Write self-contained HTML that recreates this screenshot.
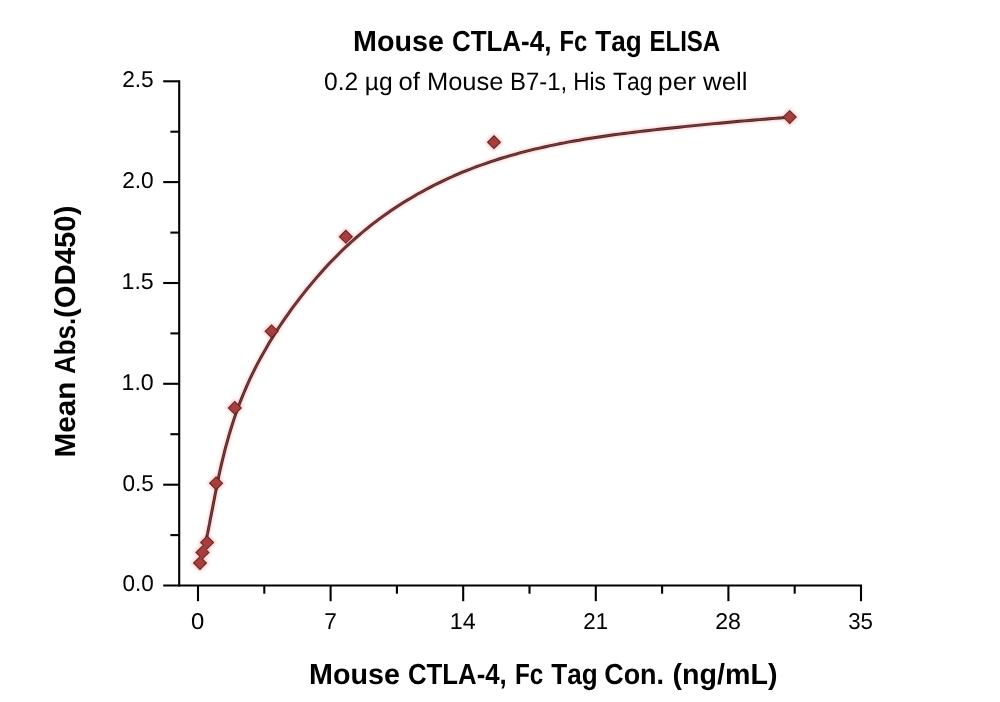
<!DOCTYPE html>
<html><head><meta charset="utf-8"><title>Mouse CTLA-4, Fc Tag ELISA</title>
<style>
html,body{margin:0;padding:0;background:#fff;}
body{width:1000px;height:702px;overflow:hidden;font-family:"Liberation Sans",sans-serif;}
svg{display:block;}
text{font-family:"Liberation Sans",sans-serif;fill:#000;font-kerning:none;text-rendering:geometricPrecision;}
.b{font-weight:bold;}
</style></head><body>
<svg width="1000" height="702" viewBox="0 0 1000 702">
<defs>
<filter id="glow" x="-20%" y="-20%" width="140%" height="140%">
<feGaussianBlur stdDeviation="1.7"/>
</filter>
<radialGradient id="dg" cx="0.5" cy="0.5" r="0.5">
<stop offset="0" stop-color="#b63838"/>
<stop offset="0.55" stop-color="#a63d3d"/>
<stop offset="1" stop-color="#964444"/>
</radialGradient>
</defs>
<rect width="1000" height="702" fill="#fff"/>
<g stroke="#000" stroke-width="2.1" fill="none" stroke-linecap="butt">
<line x1="179.2" y1="80.3" x2="179.2" y2="586.5"/>
<line x1="163.2" y1="585.5" x2="862" y2="585.5"/>
<line x1="170.4" y1="535.1" x2="179.2" y2="535.1"/>
<line x1="163.2" y1="484.7" x2="179.2" y2="484.7"/>
<line x1="170.4" y1="434.2" x2="179.2" y2="434.2"/>
<line x1="163.2" y1="383.8" x2="179.2" y2="383.8"/>
<line x1="170.4" y1="333.4" x2="179.2" y2="333.4"/>
<line x1="163.2" y1="283.0" x2="179.2" y2="283.0"/>
<line x1="170.4" y1="232.6" x2="179.2" y2="232.6"/>
<line x1="163.2" y1="182.1" x2="179.2" y2="182.1"/>
<line x1="170.4" y1="131.7" x2="179.2" y2="131.7"/>
<line x1="163.2" y1="81.3" x2="179.2" y2="81.3"/>
<line x1="198.0" y1="585.5" x2="198.0" y2="601.2"/>
<line x1="264.3" y1="585.5" x2="264.3" y2="593.7"/>
<line x1="330.6" y1="585.5" x2="330.6" y2="601.2"/>
<line x1="396.9" y1="585.5" x2="396.9" y2="593.7"/>
<line x1="463.2" y1="585.5" x2="463.2" y2="601.2"/>
<line x1="529.5" y1="585.5" x2="529.5" y2="593.7"/>
<line x1="595.8" y1="585.5" x2="595.8" y2="601.2"/>
<line x1="662.1" y1="585.5" x2="662.1" y2="593.7"/>
<line x1="728.4" y1="585.5" x2="728.4" y2="601.2"/>
<line x1="794.7" y1="585.5" x2="794.7" y2="593.7"/>
<line x1="861.0" y1="585.5" x2="861.0" y2="601.2"/>
</g>
<g opacity="0.999">
<text class="b" font-size="29.0" transform="translate(353.08,51.2) scale(0.9897,1)">Mouse</text>
<text class="b" font-size="29.0" transform="translate(451.94,51.2) scale(0.8942,1)">CTLA-4,</text>
<text class="b" font-size="29.0" transform="translate(559.41,51.2) scale(0.8180,1)">Fc</text>
<text class="b" font-size="29.0" transform="translate(595.31,51.2) scale(0.9008,1)">Tag</text>
<text class="b" font-size="29.0" transform="translate(649.39,51.2) scale(0.8296,1)">ELISA</text>
<text class="b" font-size="29.0" transform="translate(309.08,684.3) scale(0.9897,1)">Mouse</text>
<text class="b" font-size="29.0" transform="translate(407.94,684.3) scale(0.8887,1)">CTLA-4,</text>
<text class="b" font-size="29.0" transform="translate(514.98,684.3) scale(0.8373,1)">Fc</text>
<text class="b" font-size="29.0" transform="translate(551.31,684.3) scale(0.9008,1)">Tag</text>
<text class="b" font-size="29.0" transform="translate(604.19,684.3) scale(0.9291,1)">Con.</text>
<text class="b" font-size="29.0" transform="translate(672.58,684.3) scale(0.9863,1)">(ng/mL)</text>
<text font-size="25.1" transform="translate(324.04,89.7) scale(0.9801,1)">0.2</text>
<text font-size="25.1" transform="translate(364.72,89.7) scale(0.9806,1)">µg</text>
<text font-size="25.1" transform="translate(398.52,89.7) scale(1.0243,1)">of</text>
<text font-size="25.1" transform="translate(426.91,89.7) scale(1.0171,1)">Mouse</text>
<text font-size="25.1" transform="translate(510.04,89.7) scale(0.9519,1)">B7-1,</text>
<text font-size="25.1" transform="translate(573.14,89.7) scale(0.9013,1)">His</text>
<text font-size="25.1" transform="translate(613.09,89.7) scale(0.9107,1)">Tag</text>
<text font-size="25.1" transform="translate(658.11,89.7) scale(1.0426,1)">per</text>
<text font-size="25.1" transform="translate(703.04,89.7) scale(1.0289,1)">well</text>
<text class="b" font-size="29.0" transform="translate(75.1,457.59) rotate(-90) scale(1.0257,1)">Mean</text>
<text class="b" font-size="29.0" transform="translate(75.1,374.05) rotate(-90) scale(0.8965,1)">Abs.</text>
<text class="b" font-size="29.0" transform="translate(75.1,318.06) rotate(-90) scale(1.0119,1)">(OD450)</text>
<text font-size="22.9" transform="translate(122.42,591) scale(0.9819,1)">0.0</text>
<text font-size="22.9" transform="translate(122.42,490.6) scale(0.9841,1)">0.5</text>
<text font-size="22.9" transform="translate(121.54,390) scale(1.0104,1)">1.0</text>
<text font-size="22.9" transform="translate(121.53,289) scale(1.0128,1)">1.5</text>
<text font-size="22.9" transform="translate(122.16,188) scale(0.9903,1)">2.0</text>
<text font-size="22.9" transform="translate(122.16,87) scale(0.9926,1)">2.5</text>
<text font-size="22.9" transform="translate(191.07,629) scale(1.0414,1)">0</text>
<text font-size="22.9" transform="translate(324.14,629) scale(0.9894,1)">7</text>
<text font-size="22.9" transform="translate(449.83,629) scale(1.0149,1)">14</text>
<text font-size="22.9" transform="translate(583.28,629) scale(0.9741,1)">21</text>
<text font-size="22.9" transform="translate(715.23,629) scale(1.0118,1)">28</text>
<text font-size="22.9" transform="translate(848.15,629) scale(0.9730,1)">35</text>
</g>
<g filter="url(#glow)" opacity="0.27">
<path d="M200.5,563.1 L201.8,558.3 L203.0,553.4 L204.2,548.5 L205.3,543.5 L206.4,538.6 L207.5,533.7 L208.5,528.7 L209.5,523.8 L210.4,518.8 L211.4,513.9 L212.4,508.9 L213.3,504.0 L214.3,499.0 L215.2,494.0 L216.2,489.1 L217.2,484.1 L218.2,479.2 L219.2,474.3 L220.3,469.3 L221.4,464.4 L222.6,459.5 L223.8,454.6 L225.0,449.7 L226.3,444.8 L227.7,440.0 L229.0,435.1 L230.5,430.3 L232.0,425.4 L233.5,420.6 L235.1,415.9 L236.8,411.1 L238.5,406.4 L240.3,401.6 L242.2,396.9 L244.1,392.3 L246.1,387.6 L248.1,383.0 L250.2,378.4 L252.4,373.9 L254.6,369.4 L256.9,364.9 L259.3,360.4 L261.7,356.0 L264.2,351.6 L266.7,347.2 L269.2,342.8 L271.9,338.5 L274.5,334.2 L277.2,330.0 L280.0,325.8 L282.8,321.6 L285.7,317.4 L288.6,313.3 L291.5,309.2 L294.5,305.1 L297.6,301.1 L300.6,297.1 L303.8,293.1 L306.9,289.2 L310.1,285.3 L313.4,281.4 L316.6,277.6 L320.0,273.8 L323.3,270.0 L326.7,266.3 L330.2,262.6 L333.7,259.0 L337.2,255.4 L340.8,251.8 L344.4,248.3 L348.1,244.9 L351.8,241.5 L355.6,238.1 L359.4,234.8 L363.3,231.5 L367.2,228.3 L371.1,225.2 L375.1,222.1 L379.1,219.1 L383.2,216.1 L387.3,213.2 L391.5,210.3 L395.7,207.5 L399.9,204.8 L404.2,202.1 L408.5,199.4 L412.8,196.9 L417.2,194.3 L421.6,191.9 L426.0,189.5 L430.5,187.1 L435.0,184.8 L439.5,182.6 L444.1,180.4 L448.6,178.3 L453.2,176.2 L457.9,174.2 L462.5,172.2 L467.2,170.3 L471.9,168.5 L476.6,166.7 L481.3,165.0 L486.1,163.3 L490.9,161.6 L495.7,160.1 L500.5,158.5 L505.3,157.1 L510.2,155.6 L515.0,154.3 L519.9,152.9 L524.8,151.7 L529.7,150.4 L534.6,149.2 L539.5,148.1 L544.4,147.0 L549.3,145.9 L554.3,144.8 L559.2,143.8 L564.2,142.9 L569.1,141.9 L574.1,141.0 L579.1,140.2 L584.0,139.3 L589.0,138.5 L594.0,137.7 L599.0,137.0 L604.0,136.2 L609.0,135.5 L614.0,134.8 L619.0,134.1 L624.0,133.5 L629.0,132.9 L634.0,132.2 L639.0,131.6 L644.0,131.0 L649.0,130.5 L654.0,129.9 L659.1,129.3 L664.1,128.8 L669.1,128.2 L674.1,127.7 L679.1,127.2 L684.1,126.6 L689.2,126.1 L694.2,125.6 L699.2,125.1 L704.2,124.6 L709.3,124.1 L714.3,123.6 L719.3,123.2 L724.3,122.7 L729.4,122.2 L734.4,121.8 L739.4,121.3 L744.4,120.9 L749.5,120.5 L754.5,120.0 L759.5,119.6 L764.6,119.2 L769.6,118.8 L774.6,118.4 L779.6,118.0 L784.7,117.6 L789.7,117.2" fill="none" stroke="#ff3030" stroke-width="4.5"/>
<g fill="#ff3030" stroke="#ff3030" stroke-width="3" stroke-linejoin="round">
<path d="M200.00,555.95 L207.15,563.10 L200.00,570.25 L192.85,563.10 Z"/>
<path d="M202.45,545.25 L209.60,552.40 L202.45,559.55 L195.30,552.40 Z"/>
<path d="M207.10,535.25 L214.25,542.40 L207.10,549.55 L199.95,542.40 Z"/>
<path d="M216.10,476.15 L223.25,483.30 L216.10,490.45 L208.95,483.30 Z"/>
<path d="M234.80,400.75 L241.95,407.90 L234.80,415.05 L227.65,407.90 Z"/>
<path d="M271.60,324.15 L278.75,331.30 L271.60,338.45 L264.45,331.30 Z"/>
<path d="M345.85,229.55 L353.00,236.70 L345.85,243.85 L338.70,236.70 Z"/>
<path d="M494.00,135.05 L501.15,142.20 L494.00,149.35 L486.85,142.20 Z"/>
<path d="M789.70,109.95 L796.85,117.10 L789.70,124.25 L782.55,117.10 Z"/>
</g>
</g>
<path d="M200.5,563.1 L201.8,558.3 L203.0,553.4 L204.2,548.5 L205.3,543.5 L206.4,538.6 L207.5,533.7 L208.5,528.7 L209.5,523.8 L210.4,518.8 L211.4,513.9 L212.4,508.9 L213.3,504.0 L214.3,499.0 L215.2,494.0 L216.2,489.1 L217.2,484.1 L218.2,479.2 L219.2,474.3 L220.3,469.3 L221.4,464.4 L222.6,459.5 L223.8,454.6 L225.0,449.7 L226.3,444.8 L227.7,440.0 L229.0,435.1 L230.5,430.3 L232.0,425.4 L233.5,420.6 L235.1,415.9 L236.8,411.1 L238.5,406.4 L240.3,401.6 L242.2,396.9 L244.1,392.3 L246.1,387.6 L248.1,383.0 L250.2,378.4 L252.4,373.9 L254.6,369.4 L256.9,364.9 L259.3,360.4 L261.7,356.0 L264.2,351.6 L266.7,347.2 L269.2,342.8 L271.9,338.5 L274.5,334.2 L277.2,330.0 L280.0,325.8 L282.8,321.6 L285.7,317.4 L288.6,313.3 L291.5,309.2 L294.5,305.1 L297.6,301.1 L300.6,297.1 L303.8,293.1 L306.9,289.2 L310.1,285.3 L313.4,281.4 L316.6,277.6 L320.0,273.8 L323.3,270.0 L326.7,266.3 L330.2,262.6 L333.7,259.0 L337.2,255.4 L340.8,251.8 L344.4,248.3 L348.1,244.9 L351.8,241.5 L355.6,238.1 L359.4,234.8 L363.3,231.5 L367.2,228.3 L371.1,225.2 L375.1,222.1 L379.1,219.1 L383.2,216.1 L387.3,213.2 L391.5,210.3 L395.7,207.5 L399.9,204.8 L404.2,202.1 L408.5,199.4 L412.8,196.9 L417.2,194.3 L421.6,191.9 L426.0,189.5 L430.5,187.1 L435.0,184.8 L439.5,182.6 L444.1,180.4 L448.6,178.3 L453.2,176.2 L457.9,174.2 L462.5,172.2 L467.2,170.3 L471.9,168.5 L476.6,166.7 L481.3,165.0 L486.1,163.3 L490.9,161.6 L495.7,160.1 L500.5,158.5 L505.3,157.1 L510.2,155.6 L515.0,154.3 L519.9,152.9 L524.8,151.7 L529.7,150.4 L534.6,149.2 L539.5,148.1 L544.4,147.0 L549.3,145.9 L554.3,144.8 L559.2,143.8 L564.2,142.9 L569.1,141.9 L574.1,141.0 L579.1,140.2 L584.0,139.3 L589.0,138.5 L594.0,137.7 L599.0,137.0 L604.0,136.2 L609.0,135.5 L614.0,134.8 L619.0,134.1 L624.0,133.5 L629.0,132.9 L634.0,132.2 L639.0,131.6 L644.0,131.0 L649.0,130.5 L654.0,129.9 L659.1,129.3 L664.1,128.8 L669.1,128.2 L674.1,127.7 L679.1,127.2 L684.1,126.6 L689.2,126.1 L694.2,125.6 L699.2,125.1 L704.2,124.6 L709.3,124.1 L714.3,123.6 L719.3,123.2 L724.3,122.7 L729.4,122.2 L734.4,121.8 L739.4,121.3 L744.4,120.9 L749.5,120.5 L754.5,120.0 L759.5,119.6 L764.6,119.2 L769.6,118.8 L774.6,118.4 L779.6,118.0 L784.7,117.6 L789.7,117.2" fill="none" stroke="#502525" stroke-width="2.9" stroke-linejoin="round"/>
<path d="M200.5,563.1 L201.8,558.3 L203.0,553.4 L204.2,548.5 L205.3,543.5 L206.4,538.6 L207.5,533.7 L208.5,528.7 L209.5,523.8 L210.4,518.8 L211.4,513.9 L212.4,508.9 L213.3,504.0 L214.3,499.0 L215.2,494.0 L216.2,489.1 L217.2,484.1 L218.2,479.2 L219.2,474.3 L220.3,469.3 L221.4,464.4 L222.6,459.5 L223.8,454.6 L225.0,449.7 L226.3,444.8 L227.7,440.0 L229.0,435.1 L230.5,430.3 L232.0,425.4 L233.5,420.6 L235.1,415.9 L236.8,411.1 L238.5,406.4 L240.3,401.6 L242.2,396.9 L244.1,392.3 L246.1,387.6 L248.1,383.0 L250.2,378.4 L252.4,373.9 L254.6,369.4 L256.9,364.9 L259.3,360.4 L261.7,356.0 L264.2,351.6 L266.7,347.2 L269.2,342.8 L271.9,338.5 L274.5,334.2 L277.2,330.0 L280.0,325.8 L282.8,321.6 L285.7,317.4 L288.6,313.3 L291.5,309.2 L294.5,305.1 L297.6,301.1 L300.6,297.1 L303.8,293.1 L306.9,289.2 L310.1,285.3 L313.4,281.4 L316.6,277.6 L320.0,273.8 L323.3,270.0 L326.7,266.3 L330.2,262.6 L333.7,259.0 L337.2,255.4 L340.8,251.8 L344.4,248.3 L348.1,244.9 L351.8,241.5 L355.6,238.1 L359.4,234.8 L363.3,231.5 L367.2,228.3 L371.1,225.2 L375.1,222.1 L379.1,219.1 L383.2,216.1 L387.3,213.2 L391.5,210.3 L395.7,207.5 L399.9,204.8 L404.2,202.1 L408.5,199.4 L412.8,196.9 L417.2,194.3 L421.6,191.9 L426.0,189.5 L430.5,187.1 L435.0,184.8 L439.5,182.6 L444.1,180.4 L448.6,178.3 L453.2,176.2 L457.9,174.2 L462.5,172.2 L467.2,170.3 L471.9,168.5 L476.6,166.7 L481.3,165.0 L486.1,163.3 L490.9,161.6 L495.7,160.1 L500.5,158.5 L505.3,157.1 L510.2,155.6 L515.0,154.3 L519.9,152.9 L524.8,151.7 L529.7,150.4 L534.6,149.2 L539.5,148.1 L544.4,147.0 L549.3,145.9 L554.3,144.8 L559.2,143.8 L564.2,142.9 L569.1,141.9 L574.1,141.0 L579.1,140.2 L584.0,139.3 L589.0,138.5 L594.0,137.7 L599.0,137.0 L604.0,136.2 L609.0,135.5 L614.0,134.8 L619.0,134.1 L624.0,133.5 L629.0,132.9 L634.0,132.2 L639.0,131.6 L644.0,131.0 L649.0,130.5 L654.0,129.9 L659.1,129.3 L664.1,128.8 L669.1,128.2 L674.1,127.7 L679.1,127.2 L684.1,126.6 L689.2,126.1 L694.2,125.6 L699.2,125.1 L704.2,124.6 L709.3,124.1 L714.3,123.6 L719.3,123.2 L724.3,122.7 L729.4,122.2 L734.4,121.8 L739.4,121.3 L744.4,120.9 L749.5,120.5 L754.5,120.0 L759.5,119.6 L764.6,119.2 L769.6,118.8 L774.6,118.4 L779.6,118.0 L784.7,117.6 L789.7,117.2" fill="none" stroke="#784040" stroke-width="1.1" stroke-linejoin="round"/>
<g fill="#552323" stroke="none">
<path d="M200.00,555.95 L207.15,563.10 L200.00,570.25 L192.85,563.10 Z"/>
<path d="M202.45,545.25 L209.60,552.40 L202.45,559.55 L195.30,552.40 Z"/>
<path d="M207.10,535.25 L214.25,542.40 L207.10,549.55 L199.95,542.40 Z"/>
<path d="M216.10,476.15 L223.25,483.30 L216.10,490.45 L208.95,483.30 Z"/>
<path d="M234.80,400.75 L241.95,407.90 L234.80,415.05 L227.65,407.90 Z"/>
<path d="M271.60,324.15 L278.75,331.30 L271.60,338.45 L264.45,331.30 Z"/>
<path d="M345.85,229.55 L353.00,236.70 L345.85,243.85 L338.70,236.70 Z"/>
<path d="M494.00,135.05 L501.15,142.20 L494.00,149.35 L486.85,142.20 Z"/>
<path d="M789.70,109.95 L796.85,117.10 L789.70,124.25 L782.55,117.10 Z"/>
</g>
<g fill="url(#dg)" stroke="none">
<path d="M200.00,557.30 L205.80,563.10 L200.00,568.90 L194.20,563.10 Z"/>
<path d="M202.45,546.60 L208.25,552.40 L202.45,558.20 L196.65,552.40 Z"/>
<path d="M207.10,536.60 L212.90,542.40 L207.10,548.20 L201.30,542.40 Z"/>
<path d="M216.10,477.50 L221.90,483.30 L216.10,489.10 L210.30,483.30 Z"/>
<path d="M234.80,402.10 L240.60,407.90 L234.80,413.70 L229.00,407.90 Z"/>
<path d="M271.60,325.50 L277.40,331.30 L271.60,337.10 L265.80,331.30 Z"/>
<path d="M345.85,230.90 L351.65,236.70 L345.85,242.50 L340.05,236.70 Z"/>
<path d="M494.00,136.40 L499.80,142.20 L494.00,148.00 L488.20,142.20 Z"/>
<path d="M789.70,111.30 L795.50,117.10 L789.70,122.90 L783.90,117.10 Z"/>
</g>
<g stroke="#a33d3d" stroke-width="3.4" fill="none" stroke-linecap="butt">
<line x1="200.35" y1="556.85" x2="202.15" y2="558.65"/>
<line x1="203.3" y1="545.9" x2="206.3" y2="548.9"/>
</g>
</svg>
</body></html>
